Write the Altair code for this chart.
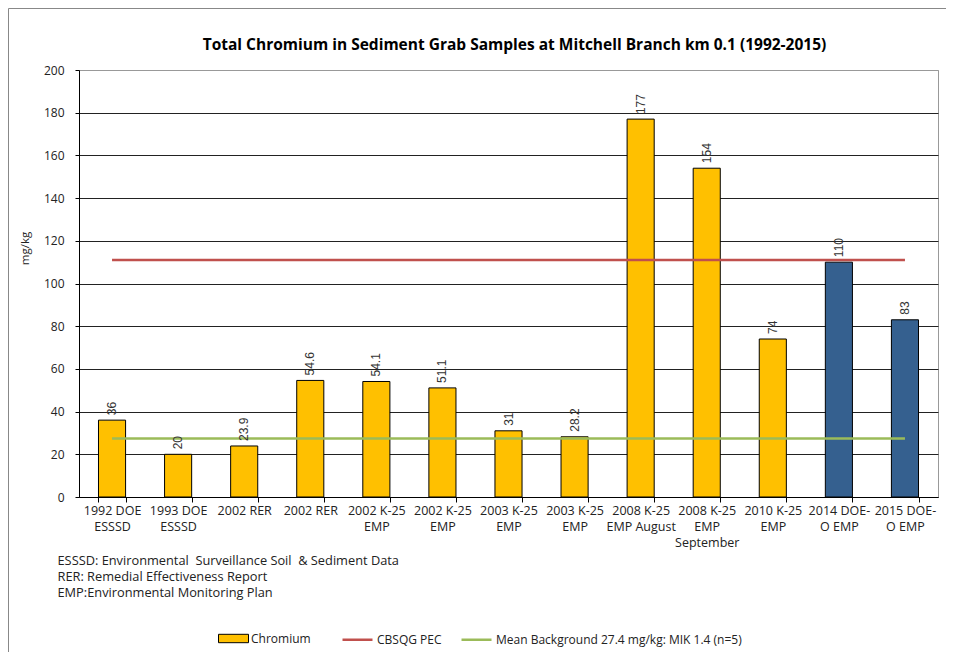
import json
import altair as alt
import pandas as pd

# ---- data ----
labels = [
    "1992 DOE\nESSSD", "1993 DOE\nESSSD", "2002 RER", "2002 RER",
    "2002 K-25\nEMP", "2002 K-25\nEMP", "2003 K-25\nEMP", "2003 K-25\nEMP",
    "2008 K-25\nEMP August", "2008 K-25\nEMP\nSeptember", "2010 K-25\nEMP",
    "2014 DOE-\nO EMP", "2015 DOE-\nO EMP",
]
values = [36, 20, 23.9, 54.6, 54.1, 51.1, 31, 28.2, 177, 154, 74, 110, 83]
value_text = ["36", "20", "23.9", "54.6", "54.1", "51.1", "31", "28.2", "177", "154", "74", "110", "83"]
program = ["other"] * 11 + ["DOE-O", "DOE-O"]

line_names = ["CBSQG PEC", "Mean Background 27.4 mg/kg: MIK 1.4 (n=5)"]
line_values = [111, 27.4]

footnotes = [
    "ESSSD: Environmental\u00a0 Surveillance Soil\u00a0 & Sediment Data",
    "RER: Remedial Effectiveness Report",
    "EMP:Environmental Monitoring Plan",
]
title_text = "Total Chromium in Sediment Grab Samples at Mitchell Branch km 0.1 (1992-2015)"

GOLD = "#FFC000"
BLUE = "#35608F"
RED = "#C0504D"
GREEN = "#9BBB59"

bars_df = pd.DataFrame({
    "idx": list(range(len(values))),
    "value": values,
    "txt": value_text,
    "program": program,
    "series": ["Chromium"] * len(values),
})
lines_df = pd.DataFrame({
    "series": line_names,
    "value": line_values,
    "x0": [0] * len(line_names),
    "x1": [len(values) - 1] * len(line_names),
})

W, H = 859, 427
N = len(labels)

label_expr = (
    "isValid(datum.value) && datum.value >= 0 && datum.value < " + str(N)
    + " ? split(" + json.dumps(labels) + "[datum.value], '\\n') : ''"
)

x_scale = alt.Scale(paddingInner=0.59, paddingOuter=0.295)
y_scale = alt.Scale(domain=[0, 200], nice=False)

x_axis = alt.Axis(
    labelExpr=label_expr, labelAngle=0, labelFontSize=12.5, labelColor="#222",
    labelLineHeight=16, labelPadding=2, labelBaseline="top",
    tickBand="extent", tickSize=5, tickColor="#000",
    domainColor="#000", grid=False,
    title=footnotes, titleFontSize=12.8, titleFontWeight="normal", titleColor="#222",
    titleAlign="left", titleAnchor="start", titleX=-22, titleY=57,
    titleBaseline="top", titleLineHeight=16,
)
y_axis = alt.Axis(
    values=list(range(0, 201, 20)), labelFontSize=12, labelColor="#222",
    labelPadding=11, tickSize=4, tickColor="#000", domainColor="#000",
    gridColor=alt.condition("datum.value == 200", alt.value("#999999"), alt.value("#222222")),
    title="mg/kg", titleFontSize=11.5, titleFontWeight="normal", titleColor="#222",
    titleX=-49, titleY=178,
)

frame = alt.Chart(alt.Data(values=[{}])).mark_rect(
    filled=False, stroke="#888", strokeWidth=1, clip=False
).encode(
    x=alt.value(-70.5), x2=alt.value(3000), y=alt.value(-61.5), y2=alt.value(3000)
)

title = alt.Chart(alt.Data(values=[{}])).mark_text(
    text=title_text, fontSize=15.5, fontWeight="bold", color="#000",
    align="center", baseline="middle",
).encode(x=alt.value(W / 2 + 6), y=alt.value(-25))

bars = alt.Chart(bars_df).mark_bar(stroke="#000", strokeWidth=1).encode(
    x=alt.X("idx:O", scale=x_scale, axis=x_axis),
    y=alt.Y("value:Q", scale=y_scale, axis=y_axis),
    fill=alt.condition(
        "datum.program == 'DOE-O'",
        alt.value(BLUE),
        alt.Fill("series:N", scale=alt.Scale(domain=["Chromium"], range=[GOLD]),
                 legend=alt.Legend(
                     orient="none", legendX=139, legendY=553, title=None,
                     symbolType="M-1,-0.28H1V0.28H-1Z", symbolSize=900,
                     symbolStrokeColor="#000", symbolStrokeWidth=1,
                     labelFontSize=12, labelColor="#222", labelOffset=2, padding=0,
                 )),
    ),
)

text = alt.Chart(bars_df).mark_text(
    angle=270, align="left", baseline="middle", dx=5,
    font="Liberation Sans", fontSize=12, color="#333",
).encode(
    x=alt.X("idx:O", scale=x_scale),
    y=alt.Y("value:Q", scale=y_scale),
    text="txt:N",
)

rules = alt.Chart(lines_df).mark_rule(strokeWidth=2.5).encode(
    x=alt.X("x0:O", scale=x_scale),
    x2="x1:O",
    y=alt.Y("value:Q", scale=y_scale),
    stroke=alt.Stroke("series:N", scale=alt.Scale(domain=line_names, range=[RED, GREEN]),
                      legend=alt.Legend(
                          orient="none", legendX=262, legendY=553, title=None,
                          direction="horizontal", symbolType="stroke", symbolSize=900,
                          symbolStrokeWidth=2.5, columnPadding=14,
                          labelFontSize=12, labelColor="#222", labelOffset=3, padding=0,
                          labelLimit=400,
                      )),
)

chart = alt.layer(frame, title, bars, rules, text).properties(
    width=W, height=H,
    autosize=alt.AutoSizeParams(type="none"),
    padding={"left": 71, "top": 62, "right": 8, "bottom": 155},
).configure(
    font="Open Sans",
).configure_view(
    stroke="#999", strokeWidth=1,
)

chart.save("out.html", embed_options={"renderer": "svg", "actions": False})
